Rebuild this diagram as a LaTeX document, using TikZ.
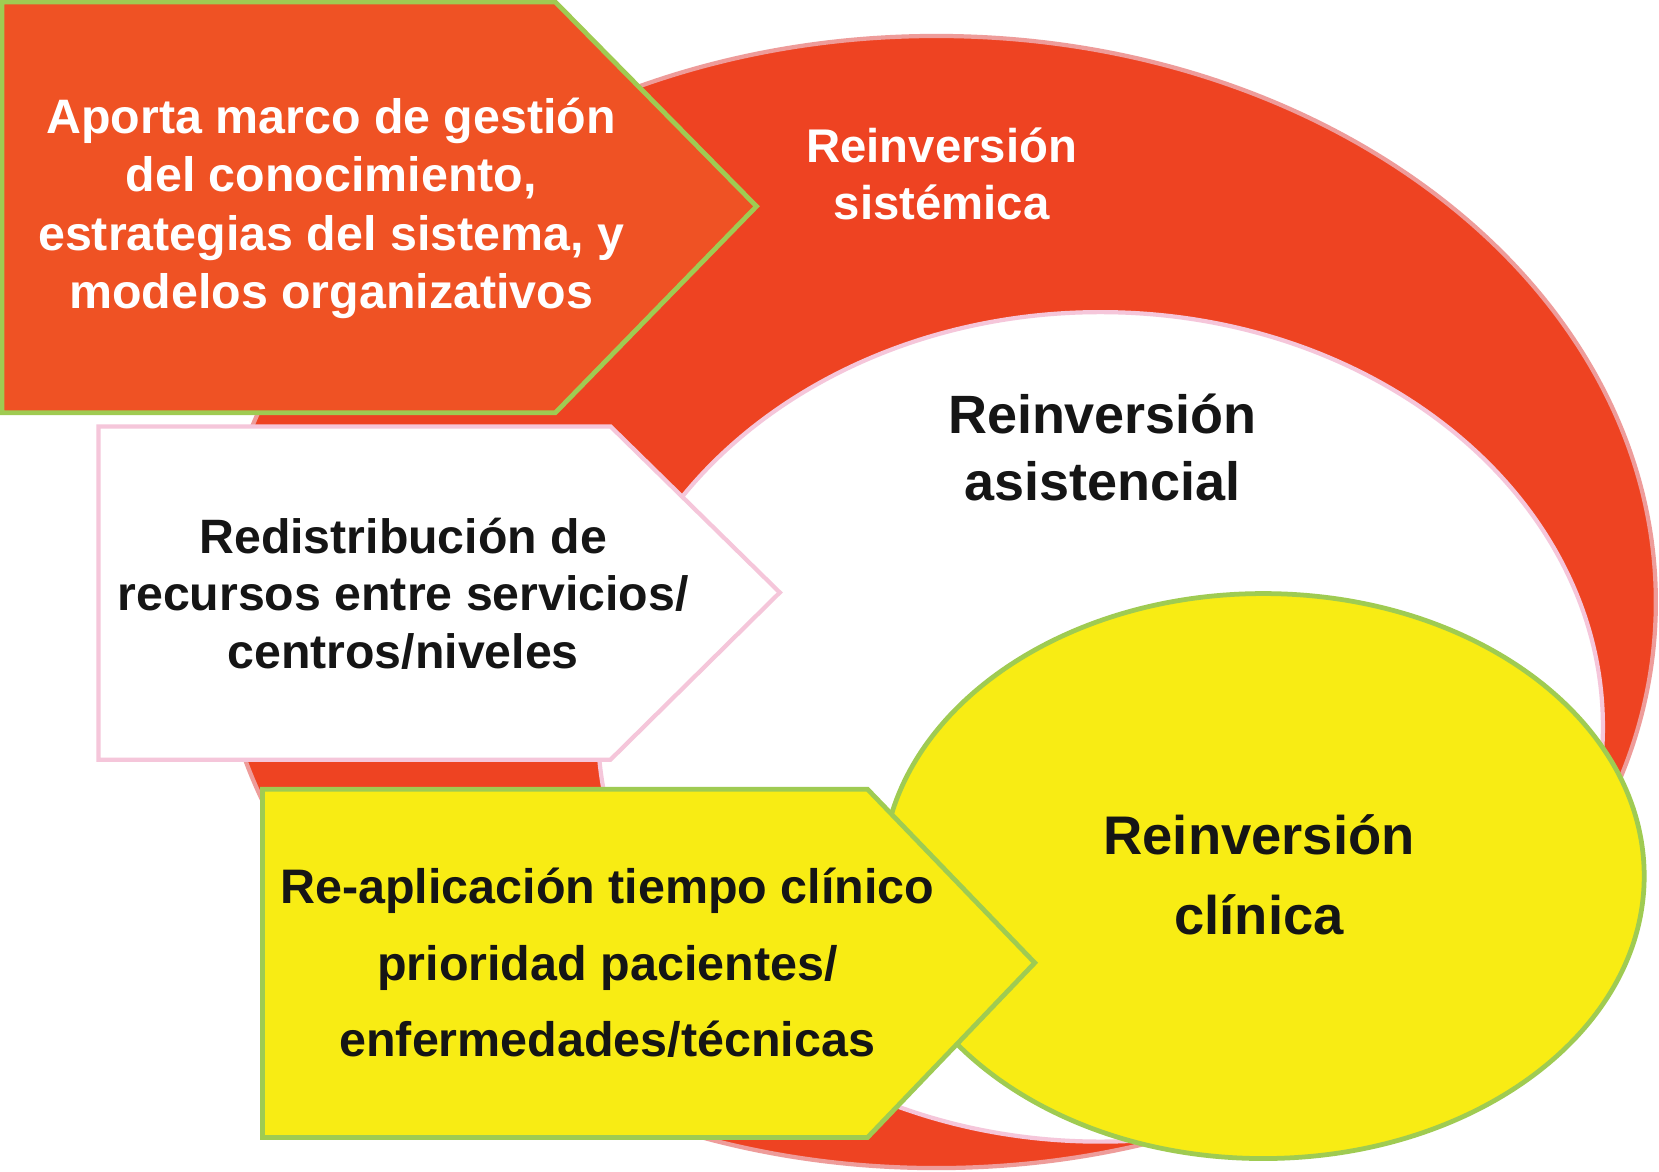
\documentclass[tikz,border=0pt]{standalone}
\usepackage{fontspec}
\setmainfont{Liberation Sans}
\usetikzlibrary{shapes.geometric}
\definecolor{ringred}{HTML}{EE4322}
\definecolor{ringedge}{HTML}{EE9C9A}
\definecolor{boxorange}{HTML}{EF5224}
\definecolor{leafgreen}{HTML}{9FCB52}
\definecolor{softpink}{HTML}{F5C6DA}
\definecolor{lemon}{HTML}{F8EC14}
\definecolor{inkblack}{HTML}{151515}
\tikzset{
  lbl/.style 2 args={align=center, inner sep=0pt, font=\bfseries\fontsize{#1}{#2}\selectfont},
  greenedge/.style={draw=leafgreen, line width=4.5pt, line join=miter},
  pinkedge/.style={draw=softpink, line width=4pt, line join=miter},
}
\begin{document}
\begin{tikzpicture}[x=1pt,y=-1pt]
\useasboundingbox (0,0) rectangle (1568,1107);
\fill[white] (0,0) rectangle (1568,1107);
% rings
\draw[fill=ringred, draw=ringedge, line width=4pt] (885,569) ellipse [x radius=680, y radius=535];
\draw[fill=white, pinkedge] (1040,687) ellipse [x radius=475, y radius=392];
\draw[fill=lemon, greenedge] (1194,828) ellipse [x radius=360, y radius=267];
% arrow boxes
\draw[fill=boxorange, greenedge] (2,2) -- (525,2) -- (715,195) -- (525,390) -- (2,390) -- cycle;
\draw[fill=white, pinkedge] (93,403) -- (577,403) -- (737,560) -- (577,718) -- (93,718) -- cycle;
\draw[fill=lemon, greenedge] (248,746) -- (820,746) -- (978,910) -- (820,1075) -- (248,1075) -- cycle;
% labels
\node[lbl={45.7}{55.3}, text=white] (gestion) at (313,197) {Aporta marco de gestión\\del conocimiento,\\estrategias del sistema, y\\modelos organizativos};
\node[lbl={44.7}{54}, text=white] (sistemica) at (890,164) {Reinversión\\sistémica};
\node[lbl={51}{63}, text=inkblack] (asistencial) at (1042,423) {Reinversión\\asistencial};
\node[lbl={45.6}{54.5}, text=inkblack] (redistrib) at (381,561) {Redistribución de\\recursos entre servicios/\\centros/niveles};
\node[lbl={45.8}{72.5}, text=inkblack] (reaplic) at (574,910) {Re-aplicación tiempo clínico\\prioridad pacientes/\\enfermedades/técnicas};
\node[lbl={51.4}{76}, text=inkblack] (clinica) at (1190,827) {Reinversión\\clínica};
\end{tikzpicture}
\end{document}
